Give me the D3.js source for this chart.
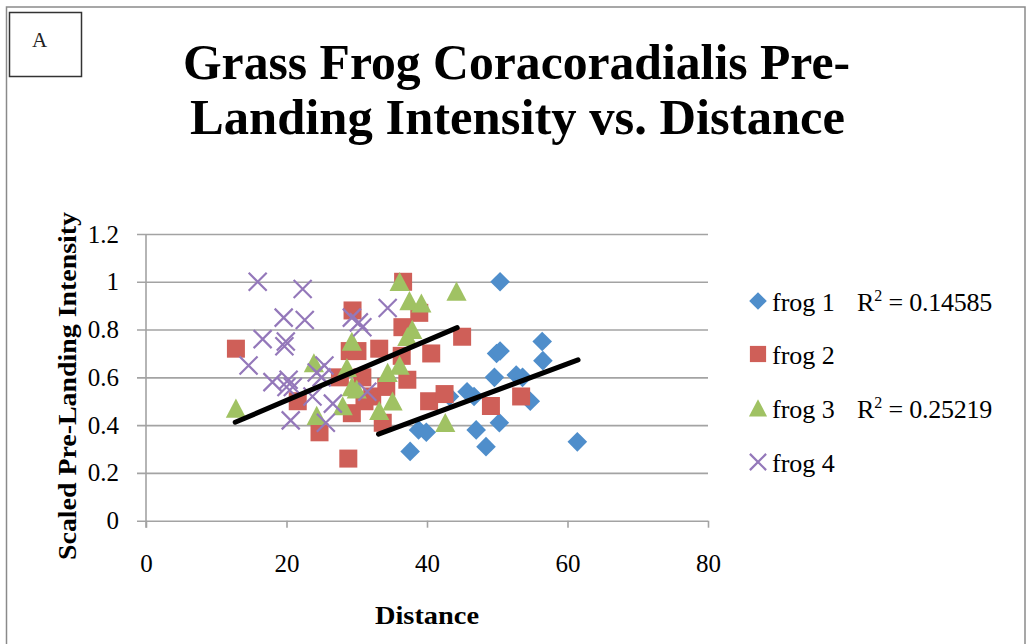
<!DOCTYPE html>
<html><head><meta charset="utf-8">
<script src="https://cdn.jsdelivr.net/npm/d3@7"></script>
<style>html,body{margin:0;padding:0;background:#fff;} svg{display:block;}</style>
</head><body>
<svg id="c" width="1029" height="644"></svg>
<script>
// ---------------- data ----------------
const seriesNames = ["frog 1", "frog 2", "frog 3", "frog 4"];
const frog1 = [[50.4,1.00],[56.4,0.75],[56.5,0.67],[49.9,0.70],[50.4,0.71],[49.6,0.60],[52.7,0.61],[53.6,0.60],
  [45.7,0.54],[46.7,0.52],[54.7,0.50],[38.8,0.38],[39.9,0.37],[37.6,0.29],[47.0,0.38],[50.3,0.41],[48.4,0.31],
  [61.4,0.33],[43.2,0.52]];
const frog2 = [[12.8,0.72],[21.6,0.50],[24.7,0.37],[28.8,0.26],[29.3,0.45],[29.4,0.88],[29.0,0.71],[30.1,0.71],
  [27.6,0.60],[30.8,0.60],[32.2,0.52],[33.2,0.72],[33.7,0.41],[34.2,0.56],[36.6,1.00],[36.5,0.81],[36.4,0.69],
  [37.2,0.59],[38.9,0.87],[40.6,0.70],[40.3,0.50],[42.5,0.53],[45.0,0.77],[49.1,0.48],[53.4,0.52],[31.1,0.50]];
const frog3 = [[12.8,0.47],[23.9,0.66],[24.3,0.44],[29.3,0.75],[28.6,0.64],[29.3,0.56],[30.0,0.55],[28.0,0.48],
  [33.2,0.46],[34.4,0.62],[35.1,0.50],[36.1,1.00],[37.5,0.92],[39.2,0.91],[37.9,0.80],[37.2,0.77],[36.1,0.65],
  [42.6,0.41],[44.2,0.96]];
const frog4 = [[15.9,1.00],[22.3,0.97],[19.6,0.85],[22.6,0.84],[16.6,0.76],[19.9,0.75],[19.7,0.73],[14.6,0.65],
  [18.0,0.58],[20.3,0.59],[20.0,0.56],[20.9,0.56],[25.4,0.65],[24.3,0.62],[25.0,0.60],[23.7,0.52],[26.6,0.49],
  [20.6,0.42],[25.6,0.41],[29.3,0.85],[30.3,0.83],[30.8,0.81],[34.4,0.89],[31.5,0.54]];
const trendFrog1 = [[33.1,0.362],[61.5,0.673]];
const trendFrog3 = [[12.7,0.412],[44.3,0.808]];
const r2Labels = ["0.14585", null, "0.25219", null];
const xTicks = [0, 20, 40, 60, 80];
const yTicks = [0, 0.2, 0.4, 0.6, 0.8, 1, 1.2];
const titleLines = ["Grass Frog Coracoradialis Pre-", "Landing Intensity vs. Distance"];
const xTitle = "Distance";
const yTitle = "Scaled Pre-Landing Intensity";
const panelLabel = "A";

// ---------------- styles ----------------
const colors = ["#4F8ECB", "#CF5F58", "#A0C263", "#9478BA"];
const serif = "'Liberation Serif', 'Times New Roman', serif";

const svg = d3.select("#c");
const x = d3.scaleLinear().domain([0, 80]).range([146, 708]);
const y = d3.scaleLinear().domain([0, 1.2]).range([520.7, 234]);

// outer frame + panel label box
svg.append("rect").attr("x", 6.5).attr("y", 7).attr("width", 1018.5).attr("height", 700)
  .attr("fill", "none").attr("stroke", "#8a8a8a").attr("stroke-width", 1.5);
svg.append("rect").attr("x", 9.5).attr("y", 12.5).attr("width", 72).attr("height", 64)
  .attr("fill", "#fff").attr("stroke", "#333").attr("stroke-width", 1.5);
svg.append("text").attr("x", 39.5).attr("y", 47).attr("text-anchor", "middle")
  .attr("font-family", serif).attr("font-size", 21).attr("fill", "#222").text(panelLabel);

// title
const titleBase = [79, 134];
const titleWidths = [667, 655];
const titleCenters = [516.5, 517.5];
titleLines.forEach((t, i) => {
  svg.append("text").attr("x", titleCenters[i]).attr("y", titleBase[i]).attr("text-anchor", "middle")
    .attr("font-family", serif).attr("font-weight", "bold").attr("font-size", 51)
    .attr("textLength", titleWidths[i]).attr("lengthAdjust", "spacingAndGlyphs").attr("fill", "#000").text(t);
});

// gridlines + y axis
const yAxis = d3.axisLeft(y).tickValues(yTicks).tickFormat(d3.format("~g"))
  .tickSize(-(708 - 137)).tickPadding(18).tickSizeOuter(0);
const gy = svg.append("g").attr("transform", "translate(137,0)").call(yAxis);
gy.select(".domain").remove();
gy.selectAll(".tick line").attr("stroke", "#a3a3a3").attr("stroke-width", 1.6);
gy.selectAll(".tick text").attr("font-family", serif).attr("font-size", 25).attr("fill", "#000");

// x axis
const xAxis = d3.axisBottom(x).tickValues(xTicks).tickFormat(d3.format("d")).tickSize(7).tickSizeOuter(0);
const gx = svg.append("g").attr("transform", `translate(0,${y(0)})`).call(xAxis);
gx.select(".domain").remove();
gx.selectAll(".tick line").attr("stroke", "#a3a3a3").attr("stroke-width", 1.6);
gx.selectAll(".tick text").attr("font-family", serif).attr("font-size", 25).attr("fill", "#000")
  .attr("y", 51).attr("dy", 0);
svg.append("line").attr("x1", x(0)).attr("x2", x(0)).attr("y1", y(1.2)).attr("y2", y(0) + 7)
  .attr("stroke", "#a3a3a3").attr("stroke-width", 1.6);

// axis titles
svg.append("text").attr("x", 427).attr("y", 624).attr("text-anchor", "middle")
  .attr("font-family", serif).attr("font-weight", "bold").attr("font-size", 25)
  .attr("textLength", 104).attr("lengthAdjust", "spacingAndGlyphs").text(xTitle);
svg.append("text").attr("transform", "translate(76,386) rotate(-90)").attr("text-anchor", "middle")
  .attr("font-family", serif).attr("font-weight", "bold").attr("font-size", 25)
  .attr("textLength", 348).attr("lengthAdjust", "spacingAndGlyphs").text(yTitle);

// marker shapes
const diamond = { draw(ctx, s) { const r = s; ctx.moveTo(0, -r); ctx.lineTo(r, 0); ctx.lineTo(0, r); ctx.lineTo(-r, 0); ctx.closePath(); } };
const square = { draw(ctx, s) { ctx.rect(-s, -s, 2 * s, 2 * s); } };
const triangle = { draw(ctx, s) { ctx.moveTo(0, -s); ctx.lineTo(s * 1.03, s * 0.95); ctx.lineTo(-s * 1.03, s * 0.95); ctx.closePath(); } };
const cross = { draw(ctx, s) { ctx.moveTo(-s, -s); ctx.lineTo(s, s); ctx.moveTo(s, -s); ctx.lineTo(-s, s); } };
const shapes = [diamond, square, triangle, cross];
const sizes = [9.8, 9, 9.8, 9];
const allSeries = [frog1, frog2, frog3, frog4];

function styleMarker(sel, i) {
  if (i === 3) sel.attr("fill", "none").attr("stroke", colors[i]).attr("stroke-width", 2.2);
  else sel.attr("fill", colors[i]).attr("stroke", "none");
}

allSeries.forEach((data, i) => {
  const g = svg.append("g");
  const sel = g.selectAll("path").data(data).join("path")
    .attr("transform", d => `translate(${x(d[0])},${y(d[1])})`)
    .attr("d", d3.symbol(shapes[i], sizes[i])());
  styleMarker(sel, i);
});

// trendlines
const line = d3.line().x(d => x(d[0])).y(d => y(d[1]));
[trendFrog1, trendFrog3].forEach(t => {
  svg.append("path").attr("d", line(t)).attr("stroke", "#000").attr("stroke-width", 5)
    .attr("stroke-linecap", "round").attr("fill", "none");
});

// legend
const legendY = [301, 354, 408, 462];
seriesNames.forEach((n, i) => {
  const m = svg.append("path").attr("transform", `translate(758,${legendY[i]})`)
    .attr("d", d3.symbol(shapes[i], sizes[i] * 0.9)());
  styleMarker(m, i);
  svg.append("text").attr("x", 772).attr("y", legendY[i] + 9.5).attr("font-family", serif)
    .attr("font-size", 26).attr("fill", "#000").text(n);
  if (r2Labels[i]) {
    const t = svg.append("text").attr("x", 857).attr("y", legendY[i] + 9.5).attr("font-family", serif)
      .attr("font-size", 26).attr("fill", "#000");
    t.append("tspan").text("R");
    t.append("tspan").attr("font-size", 16).attr("dy", -10).text("2");
    t.append("tspan").attr("dy", 10).attr("textLength", 110).text(" = " + r2Labels[i]);
  }
});
</script>
</body></html>
